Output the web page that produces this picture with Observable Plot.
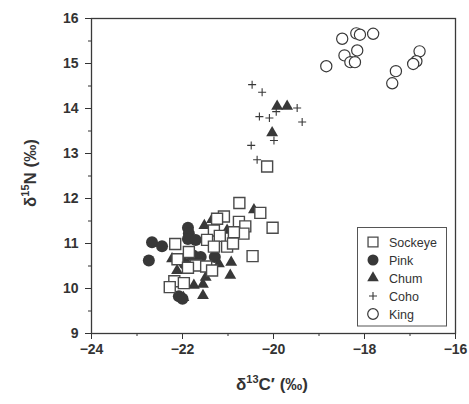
<!DOCTYPE html>
<html>
<head>
<meta charset="utf-8">
<script src="https://cdn.jsdelivr.net/npm/d3@7"></script>
<script src="https://cdn.jsdelivr.net/npm/@observablehq/plot@0.6"></script>
<style>
  html, body { margin: 0; padding: 0; background: #fff; }
  #chart { width: 469px; height: 404px; }
</style>
</head>
<body>
<div id="chart"></div>
<script>
// ---- data ----
const sockeyeX = [-20.14,-20.75,-20.29,-20.02,-21.09,-21.24,-20.76,-20.62,-20.66,-21.31,-21.18,-20.87,-21.46,-22.16,-21.31,-21.02,-20.89,-21.86,-20.46,-22.11,-21.71,-21.88,-21.48,-21.35,-22.18,-21.97,-22.28];
const sockeyeY = [12.71,11.90,11.68,11.35,11.60,11.55,11.48,11.38,11.22,11.29,11.17,11.25,11.08,10.99,10.93,10.93,11.00,10.81,10.72,10.65,10.51,10.46,10.49,10.40,10.16,10.12,10.03];
const pinkX = [-22.67,-22.45,-22.74,-21.88,-21.86,-21.88,-21.71,-21.60,-21.29,-21.75,-21.95,-22.08,-22.00,-21.80];
const pinkY = [11.03,10.94,10.62,11.35,11.22,11.10,11.08,10.70,10.70,10.72,10.55,9.83,9.77,10.75];
const chumX = [-19.92,-19.70,-20.03,-20.43,-21.52,-21.35,-21.02,-20.93,-20.95,-22.23,-22.12,-21.75,-21.55,-21.55,-21.49,-21.20,-21.98];
const chumY = [14.05,14.05,13.46,11.75,11.40,11.53,11.29,10.58,10.29,10.66,10.40,10.07,10.09,9.84,10.25,10.55,9.80];
const cohoX = [-20.47,-20.25,-20.31,-20.09,-20.49,-19.99,-20.36,-19.48,-19.37,-19.94];
const cohoY = [14.53,14.36,13.82,13.79,13.18,13.29,12.86,14.01,13.70,13.93];
const kingX = [-18.49,-18.18,-18.10,-17.81,-18.16,-18.44,-18.31,-18.21,-18.84,-16.79,-16.86,-16.93,-17.31,-17.39];
const kingY = [15.55,15.67,15.64,15.66,15.29,15.18,15.03,15.03,14.94,15.27,15.05,14.99,14.83,14.56];

const xMajor = [-24,-22,-20,-18,-16];
const xMinor = [-23,-21,-19,-17];
const yMajor = [9,10,11,12,13,14,15,16];
const yMinor = [9.5,10.5,11.5,12.5,13.5,14.5,15.5];
const species = ["Sockeye","Pink","Chum","Coho","King"];

const pts = (xs, ys) => xs.map((x, i) => ({x, y: ys[i]}));
const dark = "#383838";
const font = "Liberation Sans, Arial, Helvetica, sans-serif";
const minus = d => (d < 0 ? "\u2212" + Math.abs(d) : String(d));

const chart = Plot.plot({
  width: 469, height: 404,
  marginLeft: 91, marginRight: 14, marginTop: 18, marginBottom: 71,
  x: {domain: [-24, -16]},
  y: {domain: [9, 16]},
  style: {fontFamily: font, color: "#333", background: "#fff"},
  marks: [
    Plot.axisX(xMajor, {tickSize: 6, tickPadding: 5, tickFormat: minus, label: null, stroke: "#333"}),
    Plot.axisX(xMinor, {tickSize: 3, tickFormat: () => "", label: null, stroke: "#333"}),
    Plot.axisY(yMajor, {tickSize: 6, tickPadding: 7, label: null, stroke: "#333"}),
    Plot.axisY(yMinor, {tickSize: 3, tickFormat: () => "", label: null, stroke: "#333"}),
    Plot.dot(pts(pinkX, pinkY), {x: "x", y: "y", symbol: "circle", r: 6, fill: dark, stroke: "none"}),
    Plot.dot(pts(chumX, chumY), {x: "x", y: "y", symbol: "triangle", r: 4.4, fill: dark, stroke: "none"}),
    Plot.dot(pts(sockeyeX, sockeyeY), {x: "x", y: "y", symbol: "square", r: 6.2, fill: "#fff", stroke: "#4a4a4a", strokeWidth: 1.4}),
    Plot.dot(pts(cohoX, cohoY), {x: "x", y: "y", symbol: "plus", r: 2.7, stroke: dark, strokeWidth: 1.1}),
    Plot.dot(pts(kingX, kingY), {x: "x", y: "y", symbol: "circle", r: 5.6, fill: "#fff", stroke: dark, strokeWidth: 1.2}),
    Plot.frame({stroke: "#3a3a3a", strokeWidth: 1.3})
  ]
});

const svg = d3.select(chart);
// bold tick labels
svg.selectAll('g[aria-label="x-axis tick label"] text, g[aria-label="y-axis tick label"] text')
  .attr("font-weight", "bold").attr("font-size", 14).attr("fill", "#333");
svg.selectAll('g[aria-label="x-axis tick label"], g[aria-label="y-axis tick label"]')
  .attr("font-weight", "bold").attr("font-size", 14);

// axis titles with superscripts
const xt = svg.append("text")
  .attr("x", 272).attr("y", 390)
  .attr("text-anchor", "middle")
  .attr("font-family", font).attr("font-weight", "bold").attr("font-size", 17).attr("fill", "#333");
xt.append("tspan").text("δ");
xt.append("tspan").attr("font-size", 11).attr("dy", -7).text("13");
xt.append("tspan").attr("dy", 7).text("C\u2032 (‰)");

const yt = svg.append("text")
  .attr("transform", "translate(36,173) rotate(-90)")
  .attr("text-anchor", "middle")
  .attr("font-family", font).attr("font-weight", "bold").attr("font-size", 17).attr("fill", "#333");
yt.append("tspan").text("δ");
yt.append("tspan").attr("font-size", 11).attr("dy", -7).text("15");
yt.append("tspan").attr("dy", 7).text("N (‰)");

// legend
const lg = svg.append("g").attr("text-anchor", "start");
lg.append("rect").attr("x", 357.5).attr("y", 227.5).attr("width", 89).attr("height", 98.5)
  .attr("fill", "#fff").attr("stroke", "#555").attr("stroke-width", 1);
const symDefs = [
  {t: d3.symbolSquare, size: Math.PI * 5.6 * 5.6, fill: "#fff", stroke: "#4a4a4a", sw: 1.3},
  {t: d3.symbolCircle, size: Math.PI * 5.5 * 5.5, fill: dark, stroke: "none", sw: 0},
  {t: d3.symbolTriangle, size: Math.PI * 4.3 * 4.3, fill: dark, stroke: "none", sw: 0},
  {t: d3.symbolPlus, size: Math.PI * 2.7 * 2.7, fill: "none", stroke: dark, sw: 1.1},
  {t: d3.symbolCircle, size: Math.PI * 5.3 * 5.3, fill: "#fff", stroke: dark, sw: 1.2}
];
species.forEach((name, i) => {
  const cy = 242 + i * 18;
  const s = symDefs[i];
  lg.append("path").attr("transform", `translate(373,${cy})`)
    .attr("d", d3.symbol(s.t, s.size)())
    .attr("fill", s.fill).attr("stroke", s.stroke).attr("stroke-width", s.sw);
  lg.append("text").attr("x", 389).attr("y", cy + 4.5).attr("text-anchor", "start")
    .attr("font-family", font).attr("font-size", 12.5).attr("fill", "#333").text(name);
});

document.getElementById("chart").appendChild(chart);
</script>
</body>
</html>
